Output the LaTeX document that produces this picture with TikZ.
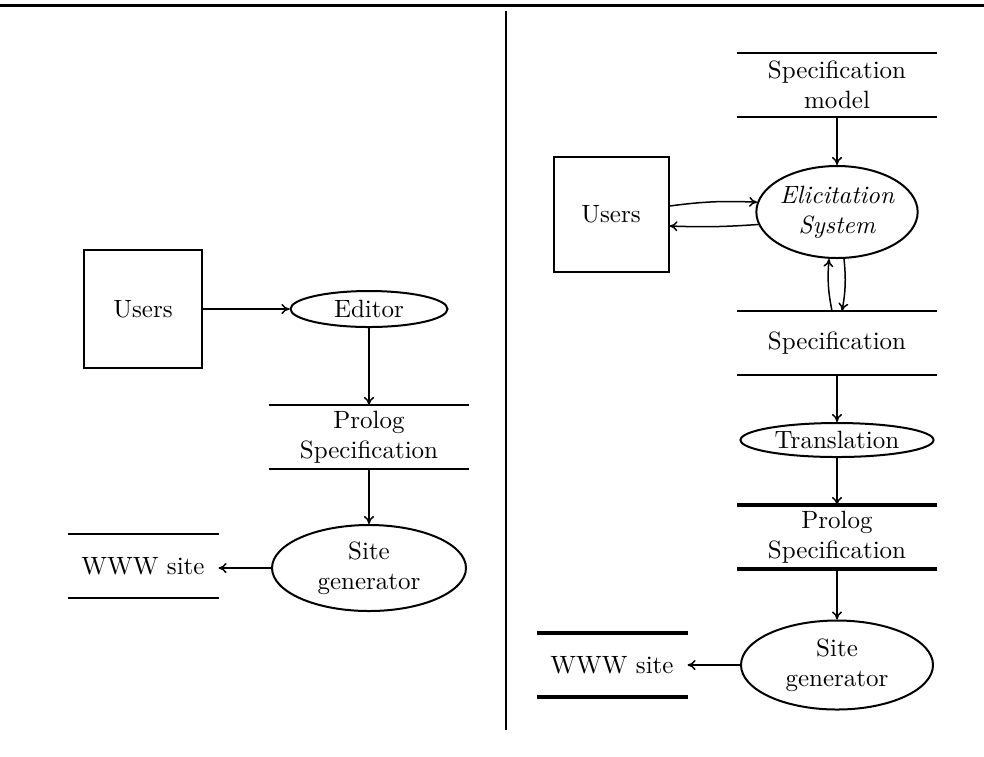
\documentclass[tikz,border=0pt]{standalone}
\usetikzlibrary{shapes.geometric,arrows.meta}
\begin{document}
\begin{tikzpicture}[x=0.4pt,y=-0.4pt,
  every node/.style={font=\fontsize{10}{12}\selectfont, inner sep=0pt, align=center},
  entity/.style={draw, line width=0.8pt, minimum width=#1, minimum height=#1},
  process/.style={draw, ellipse, line width=0.8pt},
  store/.style={minimum width=#1, minimum height=25.2pt},
  storeline/.style={line width=0.72pt},
  heavyline/.style={line width=1.3pt},
  flow/.style={-{To[length=3.2pt,width=4pt]}, line width=0.6pt}]
  \useasboundingbox (0,0) rectangle (984,756);

  % page rule and column divider
  \draw[line width=1.2pt] (0,5) -- (984,5);
  \draw[line width=0.8pt] (506,11) -- (506,730);

  % ---- left column: hand-written Prolog ----
  \node[entity=47pt] (usersA) at (143,309) {Users};
  \node[process, minimum width=62.8pt, minimum height=14.4pt] (editor) at (369,309) {Editor};
  \node[store=79.6pt] (prologA) at (369,437) {Prolog\\Specification};
  \node[process, minimum width=77.6pt, minimum height=34.4pt] (genA) at (369,568) {Site\\generator};
  \node[store=60pt] (wwwA) at (143,566) {WWW site};

  \foreach \s in {prologA,wwwA}{
    \draw[storeline] (\s.north west) -- (\s.north east);
    \draw[storeline] (\s.south west) -- (\s.south east);
  }

  \draw[flow] (usersA.east) -- (editor.west);
  \draw[flow] (editor.south) -- (prologA.north);
  \draw[flow] (prologA.south) -- (genA.north);
  \draw[flow] (genA.west) -- (wwwA.east |- genA.west);

  % ---- right column: elicited specification ----
  \node[store=79.6pt] (model) at (837,85) {Specification\\model};
  \node[process, minimum width=64pt, minimum height=36.8pt] (elicit) at (837,212) {\itshape Elicitation\\\itshape System};
  \node[entity=46pt] (usersB) at (611,214) {Users};
  \node[store=79.6pt] (spec) at (837,343) {Specification};
  \node[process, minimum width=77.2pt, minimum height=13.6pt] (trans) at (837,440) {Translation};
  \node[store=79.6pt] (prologB) at (837,537) {Prolog\\Specification};
  \node[process, minimum width=76.8pt, minimum height=35.6pt] (genB) at (837,665) {Site\\generator};
  \node[store=60pt] (wwwB) at (612,665) {WWW site};

  \foreach \s in {model,spec}{
    \draw[storeline] (\s.north west) -- (\s.north east);
    \draw[storeline] (\s.south west) -- (\s.south east);
  }
  \foreach \s in {prologB,wwwB}{
    \draw[heavyline] (\s.north west) -- (\s.north east);
    \draw[heavyline] (\s.south west) -- (\s.south east);
  }

  \draw[flow] (model.south) -- (elicit.north);
  \draw[flow] ([yshift=3.2pt]usersB.east) to[bend left=5] (elicit.173);
  \draw[flow] (elicit.189) to[bend left=3] ([yshift=-4.8pt]usersB.east);
  \draw[flow] ([xshift=-2pt]spec.north) to[bend left=8] ([xshift=-3.2pt]elicit.south);
  \draw[flow] ([xshift=2.8pt]elicit.south) to[bend left=8] ([xshift=2pt]spec.north);
  \draw[flow] (spec.south) -- (trans.north);
  \draw[flow] (trans.south) -- (prologB.north);
  \draw[flow] (prologB.south) -- (genB.north);
  \draw[flow] (genB.west) -- (wwwB.east);
\end{tikzpicture}
\end{document}
